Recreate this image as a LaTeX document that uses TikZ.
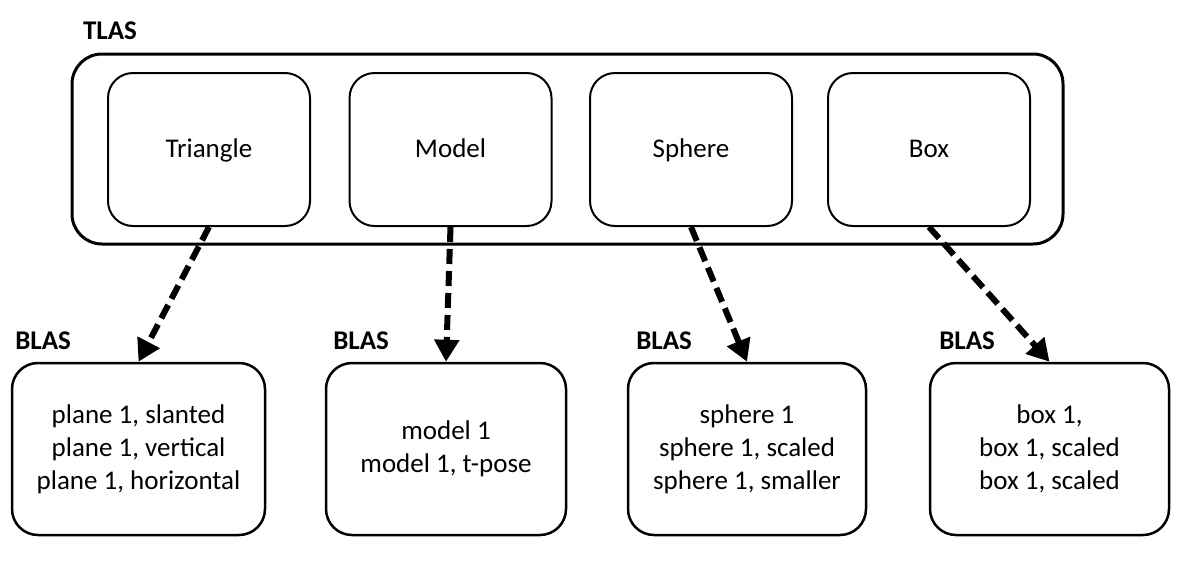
\documentclass[tikz,border=0pt]{standalone}
\usepackage{fontspec}
\setmainfont{Carlito}
\usetikzlibrary{arrows.meta, positioning}

\begin{document}
\begin{tikzpicture}[x=1pt, y=-1pt,
    every node/.style={font=\fontsize{27}{33}\selectfont},
    outer/.style={draw, line width=3pt, rounded corners=30pt, minimum width=991pt, minimum height=190pt},
    tlbox/.style={draw, line width=2pt, rounded corners=25pt, minimum width=202pt, minimum height=153pt, text height=18pt, text depth=2pt},
    blbox/.style={draw, line width=2.5pt, rounded corners=26pt, minimum height=172pt, align=center},
    tag/.style={font=\fontsize{27}{30}\selectfont\bfseries, anchor=base west},
    link/.style={line width=6pt, dash pattern=on 15pt off 7pt, -{Triangle[length=22pt, width=24pt]}}]
  \useasboundingbox (0,0) rectangle (1182,568);
  % top level
  \node[outer] (tlas) at (567.5,149) {};
  \node[tag] (tlas-tag) at ([shift={(9,-13)}]tlas.north west) {TLAS};
  \node[tlbox] (tri) at (209,149.5) {Triangle};
  \node[tlbox] (model) at (450.5,149.5) {Model};
  \node[tlbox] (sphere) at (691,149.5) {Sphere};
  \node[tlbox] (box) at (929,149.5) {Box};
  % bottom level
  \node[blbox, minimum width=253pt] (b1) at (138.5,449) {plane 1, slanted\\plane 1, vertical\\plane 1, horizontal};
  \node[blbox, minimum width=240pt] (b2) at (446,449) {model 1\\model 1, t-pose};
  \node[blbox, minimum width=238pt] (b3) at (747,449) {sphere 1\\sphere 1, scaled\\sphere 1, smaller};
  \node[blbox, minimum width=239pt] (b4) at (1049.5,449) {box 1,\\box 1, scaled\\box 1, scaled};
  \node[tag] (b1-tag) at ([shift={(1,-12)}]b1.north west) {BLAS};
  \node[tag] (b2-tag) at ([shift={(5,-12)}]b2.north west) {BLAS};
  \node[tag] (b3-tag) at ([shift={(6,-12)}]b3.north west) {BLAS};
  \node[tag] (b4-tag) at ([shift={(7,-12)}]b4.north west) {BLAS};
  % links
  \draw[link] (tri.south) -- (b1.north);
  \draw[link] (model.south) -- (b2.north);
  \draw[link] (sphere.south) -- (b3.north);
  \draw[link] (box.south) -- (b4.north);
\end{tikzpicture}
\end{document}
